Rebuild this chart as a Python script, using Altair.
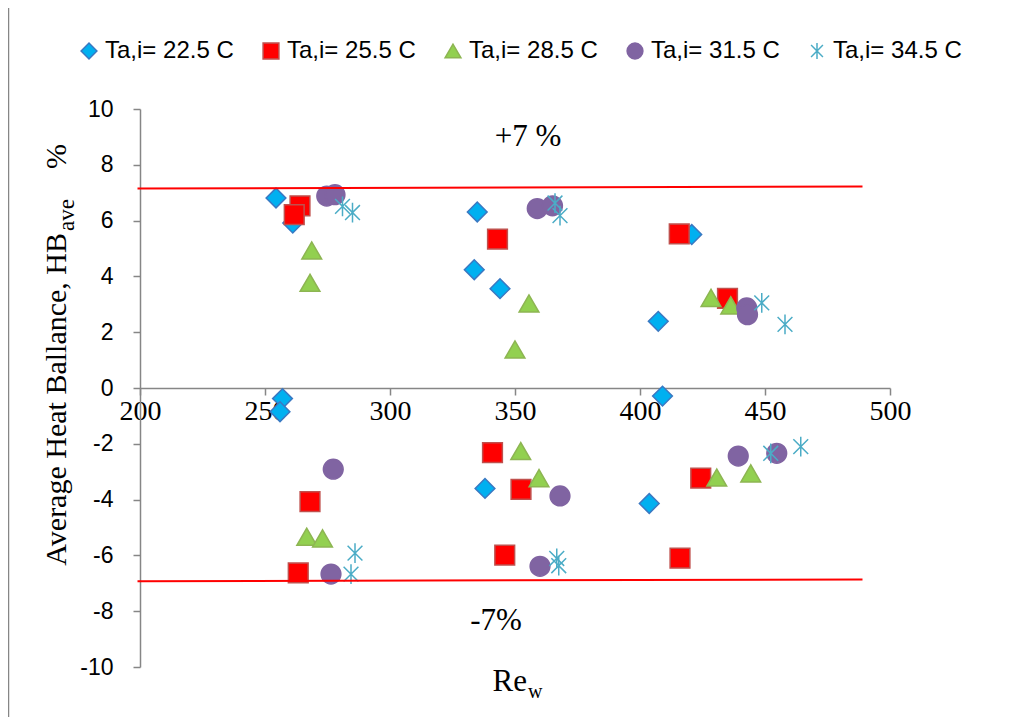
import altair as alt
import pandas as pd

series_labels = ["Ta,i= 22.5 C", "Ta,i= 25.5 C", "Ta,i= 28.5 C", "Ta,i= 31.5 C", "Ta,i= 34.5 C"]

re_22 = [254.4, 261.1, 257.0, 256.0, 334.9, 333.7, 344.0, 338.0, 420.7, 407.3, 409.0, 403.7]
hb_22 = [6.81, 5.91, -0.38, -0.85, 6.31, 4.24, 3.56, -3.60, 5.50, 2.39, -0.29, -4.14]
re_25 = [264.0, 261.7, 268.0, 263.3, 343.0, 341.0, 352.4, 345.9, 415.7, 435.0, 424.3, 416.0]
hb_25 = [6.53, 6.21, -4.07, -6.63, 5.34, -2.32, -3.63, -5.99, 5.52, 3.21, -3.23, -6.10]
re_28 = [268.7, 268.0, 266.7, 273.0, 355.6, 350.0, 352.3, 359.6, 428.4, 436.3, 430.7, 444.3]
hb_28 = [4.93, 3.77, -5.33, -5.39, 3.03, 1.38, -2.26, -3.23, 3.23, 2.96, -3.21, -3.06]
re_31 = [274.7, 278.0, 277.3, 276.4, 358.9, 365.0, 368.0, 360.0, 442.7, 443.0, 439.3, 454.7]
hb_31 = [6.88, 6.93, -2.91, -6.67, 6.43, 6.53, -3.87, -6.39, 2.87, 2.63, -2.44, -2.34]
re_34 = [281.0, 285.0, 286.0, 284.4, 366.0, 368.0, 366.7, 367.5, 448.7, 458.0, 452.3, 464.3]
hb_34 = [6.51, 6.29, -5.92, -6.67, 6.63, 6.18, -6.11, -6.37, 3.05, 2.28, -2.34, -2.10]

# +/- 7 % reference lines (slightly tilted, as drawn)
ref_x = [199.0, 489.0]
upper_y = [7.15, 7.22]
lower_y = [-6.93, -6.86]

ann_text = ["+7 %", "-7%"]
ann_x = [355.2, 342.4]
ann_y = [9.0, -8.35]

x_ticks = [200, 250, 300, 350, 400, 450, 500]
y_ticks = [-10, -8, -6, -4, -2, 0, 2, 4, 6, 8, 10]

fill_colors = ["#00b0f0", "#ff0000", "#92d050", "#8064a2", "transparent"]
stroke_colors = ["#3a78c2", "#c0504d", "#8db552", "#8064a2", "#4bacc6"]
star = "M0,-1L0,1M-0.75,-0.75L0.75,0.75M-0.75,0.75L0.75,-0.75"
shapes = ["diamond", "square", "triangle-up", "circle", star]

rows = []
for lab, xs, ys in zip(series_labels, [re_22, re_25, re_28, re_31, re_34],
                       [hb_22, hb_25, hb_28, hb_31, hb_34]):
    for a, b in zip(xs, ys):
        rows.append({"series": lab, "Re": a, "HB": b})
df = pd.DataFrame(rows)

line_rows = []
for name, ys in [("upper", upper_y), ("lower", lower_y)]:
    for a, b in zip(ref_x, ys):
        line_rows.append({"line": name, "Re": a, "HB": b})
df_lines = pd.DataFrame(line_rows)

df_ann = pd.DataFrame({"t": ann_text, "Re": ann_x, "HB": ann_y})

x_scale = alt.Scale(domain=[200, 500], nice=False, zero=False)
y_scale = alt.Scale(domain=[-10, 10], nice=False)

SERIF = "Liberation Serif"
SANS = "Liberation Sans"

x_axis = alt.Axis(values=x_ticks, title=None, offset=-279, domainColor="#868686",
                  domainWidth=1.5, tickColor="#868686", tickWidth=1.5, tickSize=7,
                  labelFont=SERIF, labelFontSize=28, labelColor="black",
                  labelPadding=2, grid=False, labelFlush=False)
y_axis = alt.Axis(values=y_ticks, title=None, domainColor="#868686", domainWidth=1.5,
                  tickColor="#868686", tickWidth=1.5, tickSize=7,
                  labelFont=SANS, labelFontSize=23, labelColor="black",
                  labelPadding=20, grid=False,
                  labelExpr="datum.value < 0 ? '-' + abs(datum.value) : '' + datum.value")

leg = alt.Legend(title=None, orient="none", legendX=-63, legendY=-70,
                 direction="horizontal", columns=5, labelFont=SANS, labelFontSize=24,
                 labelColor="black", symbolSize=250, symbolStrokeWidth=1.5,
                 columnPadding=25, labelOffset=4, padding=0)

points = alt.Chart(df).mark_point(filled=True, size=390, strokeWidth=1.5, opacity=1).encode(
    x=alt.X("Re:Q", scale=x_scale, axis=x_axis),
    y=alt.Y("HB:Q", scale=y_scale, axis=y_axis),
    fill=alt.Fill("series:N", scale=alt.Scale(domain=series_labels, range=fill_colors), legend=leg),
    stroke=alt.Stroke("series:N", scale=alt.Scale(domain=series_labels, range=stroke_colors), legend=leg),
    shape=alt.Shape("series:N", scale=alt.Scale(domain=series_labels, range=shapes), legend=leg),
)

lines = alt.Chart(df_lines).mark_line(color="#ff0000", strokeWidth=2).encode(
    x=alt.X("Re:Q", scale=x_scale, axis=x_axis),
    y=alt.Y("HB:Q", scale=y_scale, axis=y_axis),
    detail="line:N",
)

ann = alt.Chart(df_ann).mark_text(font=SERIF, fontSize=31, color="black",
                                  align="center", baseline="middle").encode(
    x=alt.X("Re:Q", scale=x_scale, axis=x_axis),
    y=alt.Y("HB:Q", scale=y_scale, axis=y_axis),
    text="t:N",
)

one = pd.DataFrame({"k": [0]})

def label(text, x, y, size, angle=0, align="left", font=SERIF):
    kw = dict(font=font, fontSize=size, color="black", align=align, baseline="alphabetic")
    if angle:
        kw["angle"] = angle
    return alt.Chart(one).mark_text(**kw).encode(
        x=alt.value(x), y=alt.value(y), text=alt.value(text))

ytitle_main = label("Average Heat Ballance, HB", -74, 124, 30, angle=270, align="right")
ytitle_sub = label("ave", -66, 122, 23, angle=270, align="left")
ytitle_pct = label("%", -74, 60, 30, angle=270, align="left")
xtitle_main = label("Re", 387, 582, 31, align="right")
xtitle_sub = label("w", 388, 589, 20, align="left")

border = alt.Chart(one).mark_rule(color="#868686", strokeWidth=1.5).encode(
    x=alt.value(-131.5), y=alt.value(-101), y2=alt.value(608))

chart = alt.layer(
    points, lines, ann, ytitle_main, ytitle_sub, ytitle_pct, xtitle_main, xtitle_sub, border
).properties(
    width=750, height=558,
    padding={"left": 132, "top": 101, "right": 120, "bottom": 50},
    autosize=alt.AutoSizeParams(type="none"),
    background="white",
).configure_view(stroke=None)

chart.save("out.html", embed_options={"renderer": "svg", "actions": False})
